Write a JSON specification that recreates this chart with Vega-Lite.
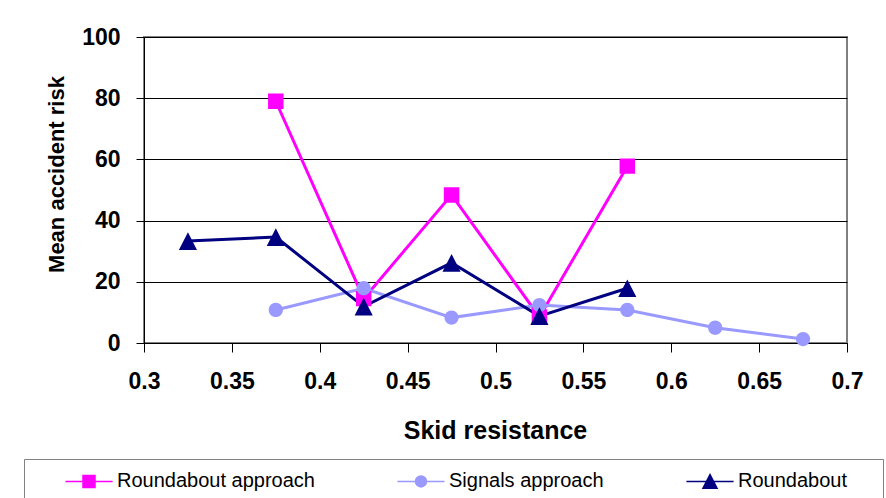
{
  "$schema": "https://vega.github.io/schema/vega-lite/v6.json",
  "width": 703,
  "height": 306,
  "autosize": "none",
  "padding": {"left": 144, "top": 37, "right": 39, "bottom": 155},
  "background": "white",
  "config": {
    "font": "Liberation Sans",
    "view": {"stroke": "#808080", "strokeWidth": 2},
    "axis": {
      "labelFont": "Liberation Sans",
      "labelFontWeight": "bold",
      "labelFontSize": 23,
      "labelColor": "#000000",
      "titleFont": "Liberation Sans",
      "titleFontWeight": "bold",
      "titleColor": "#000000",
      "domainColor": "#000000",
      "domainWidth": 1,
      "tickColor": "#000000",
      "tickWidth": 1,
      "gridColor": "#000000",
      "gridWidth": 1,
      "gridOpacity": 1,
      "labelOverlap": false,
      "labelFlush": false
    }
  },
  "data": {
    "values": [
      {"series": "Roundabout approach", "skid": 0.375, "risk": 79},
      {"series": "Roundabout approach", "skid": 0.425, "risk": 14.5},
      {"series": "Roundabout approach", "skid": 0.475, "risk": 48.4},
      {"series": "Roundabout approach", "skid": 0.525, "risk": 8.5},
      {"series": "Roundabout approach", "skid": 0.575, "risk": 57.8},
      {"series": "Signals approach", "skid": 0.375, "risk": 10.8},
      {"series": "Signals approach", "skid": 0.425, "risk": 17.9},
      {"series": "Signals approach", "skid": 0.475, "risk": 8.3},
      {"series": "Signals approach", "skid": 0.525, "risk": 12.4},
      {"series": "Signals approach", "skid": 0.575, "risk": 10.8},
      {"series": "Signals approach", "skid": 0.625, "risk": 5},
      {"series": "Signals approach", "skid": 0.675, "risk": 1.3},
      {"series": "Roundabout", "skid": 0.325, "risk": 33.3},
      {"series": "Roundabout", "skid": 0.375, "risk": 34.6},
      {"series": "Roundabout", "skid": 0.425, "risk": 11.9},
      {"series": "Roundabout", "skid": 0.475, "risk": 26.2},
      {"series": "Roundabout", "skid": 0.525, "risk": 8.8},
      {"series": "Roundabout", "skid": 0.575, "risk": 17.9}
    ]
  },
  "encoding": {
    "x": {
      "field": "skid",
      "type": "quantitative",
      "scale": {"domain": [0.3, 0.7], "nice": false, "zero": false},
      "axis": {
        "title": "Skid resistance",
        "titleFontSize": 25,
        "titleX": 351,
        "titleY": 87,
        "titleAlign": "center",
        "titleBaseline": "middle",
        "values": [0.3, 0.35, 0.4, 0.45, 0.5, 0.55, 0.6, 0.65, 0.7],
        "format": ".2~f",
        "grid": false,
        "tickSize": 9,
        "labelPadding": 18
      }
    },
    "y": {
      "field": "risk",
      "type": "quantitative",
      "scale": {"domain": [0, 100], "nice": false},
      "axis": {
        "title": "Mean accident risk",
        "titleFontSize": 22,
        "titleX": -88,
        "titleY": 137,
        "titleAngle": -90,
        "titleAlign": "center",
        "titleBaseline": "middle",
        "values": [0, 20, 40, 60, 80, 100],
        "grid": true,
        "tickSize": 8,
        "labelPadding": 16
      }
    }
  },
  "layer": [
    {
      "mark": {"type": "line", "strokeWidth": 3},
      "encoding": {
        "color": {
          "field": "series",
          "type": "nominal",
          "scale": {
            "domain": ["Roundabout approach", "Signals approach", "Roundabout"],
            "range": ["#FF00FF", "#9999FF", "#000080"]
          }
        }
      }
    },
    {
      "mark": {"type": "point", "filled": true, "opacity": 1, "size": 2401},
      "encoding": {
        "color": {
          "field": "series",
          "type": "nominal",
          "scale": {
            "domain": ["Roundabout approach", "Signals approach", "Roundabout"],
            "range": ["#FF00FF", "#9999FF", "#000080"]
          },
          "legend": {
            "title": " ",
            "titleOrient": "left",
            "titleFontSize": 20,
            "titlePadding": 43,
            "orient": "none",
            "legendX": -120,
            "legendY": 422,
            "direction": "horizontal",
            "columns": 3,
            "padding": 2,
            "columnPadding": 79,
            "strokeColor": "#808080",
            "labelFont": "Liberation Sans",
            "labelFontSize": 20,
            "labelColor": "#000000",
            "labelLimit": 400,
            "labelOffset": 8,
            "symbolSize": 1444,
            "labelExpr": "datum.label == 'Roundabout' ? 'Roundabout      \u200b' : datum.label",
            "encode": {
              "legend": {
                "update": {
                  "stroke": {"value": "#808080"},
                  "strokeWidth": {"value": 2}
                }
              },
              "symbols": {
                "update": {
                  "stroke": {"scale": "color", "field": "value"},
                  "fill": {"scale": "color", "field": "value"},
                  "strokeWidth": {"value": 3},
                  "size": {"value": 1444},
                  "opacity": {"value": 1}
                }
              }
            }
          }
        },
        "shape": {
          "field": "series",
          "type": "nominal",
          "scale": {
            "domain": ["Roundabout approach", "Signals approach", "Roundabout"],
            "range": [
              "M-1.24,0H1.24M-0.316,-0.316H0.316V0.316H-0.316ZM0,1.8Z",
              "M-1.24,0H1.24M0.29,0A0.29,0.29,0,1,1,-0.29,0A0.29,0.29,0,1,1,0.29,0ZM0,1.8Z",
              "M-1.24,0H1.24M0,-0.36L0.37,0.36H-0.37ZM0,1.8Z"
            ]
          }
        }
      }
    }
  ]
}
